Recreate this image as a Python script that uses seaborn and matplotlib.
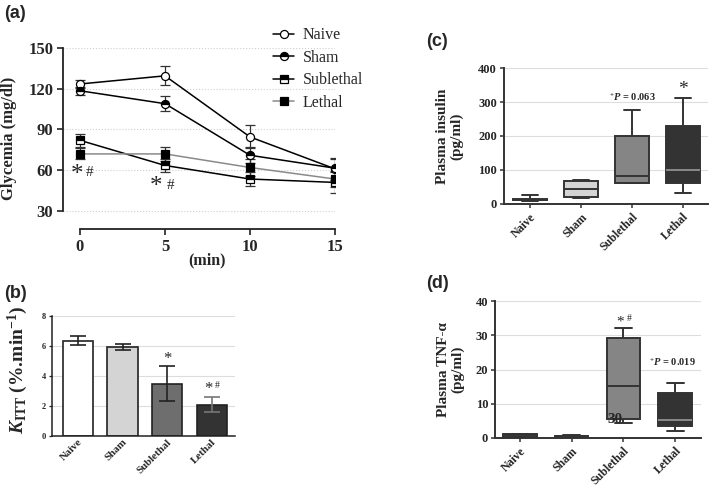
import numpy as np
import pandas as pd
import matplotlib
matplotlib.use("Agg")
import matplotlib.pyplot as plt
import seaborn as sns

sns.set_style("white")
plt.rcParams['font.family'] = ['Liberation Serif', 'DejaVu Serif']
plt.rcParams['mathtext.fontset'] = 'custom'
plt.rcParams['mathtext.rm'] = 'Liberation Serif:bold'
plt.rcParams['mathtext.it'] = 'Liberation Serif:italic:bold'
plt.rcParams['mathtext.bf'] = 'Liberation Serif:bold'

# ---------------- data ----------------
groups = ["Naive", "Sham", "Sublethal", "Lethal"]

# (a) glycemia during ITT
time_min = [0, 5, 10, 15]
glyc_naive = [123.5, 129.5, 84.5, 61.0]
glyc_sham = [118.5, 109.0, 71.0, 61.5]
glyc_sublethal = [82.0, 63.5, 53.5, 51.0]
glyc_lethal = [72.0, 72.0, 62.0, 53.5]
err_naive = [3, 7, 8.5, 8]
err_sham = [3, 5.5, 6, 7]
err_sublethal = [5, 5, 5, 7.5]
err_lethal = [4, 5, 6, 6]

# (b) KITT
kitt_mean = [6.35, 5.95, 3.5, 2.1]
kitt_err = [0.3, 0.2, 1.15, 0.5]

# (c) plasma insulin five-number summaries (min, q1, median, q3, max)
ins_naive = [10, 11, 13, 14, 27]
ins_sham = [18.5, 20.5, 43, 68.5, 71.5]
ins_sublethal = [62, 63, 81, 200, 276]
ins_lethal = [32, 61, 101, 229, 311]

# (d) plasma TNF-alpha five-number summaries
tnf_naive = [0.2, 0.3, 0.8, 1.2, 1.3]
tnf_sham = [0.1, 0.2, 0.5, 0.7, 0.8]
tnf_sublethal = [4.4, 5.6, 15.1, 29.3, 32.1]
tnf_lethal = [1.95, 3.5, 5.35, 13.1, 16.0]

# --------------- figure ---------------
W, H = 709, 487
fig = plt.figure(figsize=(W / 100, H / 100), dpi=100)


def ax_px(l, r, t, b):
    return fig.add_axes([l / W, 1 - b / H, (r - l) / W, (b - t) / H])


spine_col = '#222222'

# ================= (a) =================
axA = ax_px(63, 335, 48, 229)
axA.set_xlim(-1, 15)
axA.set_ylim(16.7, 150)
for y in [30, 60, 90, 120, 150]:
    axA.axhline(y, color='#cfcfcf', lw=0.8, ls=':', zorder=0)

series = [
    ("Naive", glyc_naive, err_naive, dict(color='black', marker='o', mfc='white', mec='black', fillstyle='full')),
    ("Sham", glyc_sham, err_sham, dict(color='black', marker='o', mfc='black', mec='black', fillstyle='top', markerfacecoloralt='white')),
    ("Sublethal", glyc_sublethal, err_sublethal, dict(color='black', marker='s', mfc='black', mec='black', fillstyle='top', markerfacecoloralt='white')),
    ("Lethal", glyc_lethal, err_lethal, dict(color='#8a8a8a', marker='s', mfc='black', mec='black', fillstyle='full')),
]
for name, vals, err, st in series:
    axA.errorbar(time_min, vals, yerr=err, fmt='none', ecolor='#333333', elinewidth=0.9, capsize=3.5, capthick=0.9, zorder=2)
    sns.lineplot(x=time_min, y=vals, ax=axA, label=name, lw=1.1, markersize=5.8, mew=0.9, zorder=3, **st)

axA.spines['top'].set_visible(False)
axA.spines['right'].set_visible(False)
axA.spines['left'].set_bounds(30, 150)
axA.spines['bottom'].set_bounds(0, 15)
for s in ['left', 'bottom']:
    axA.spines[s].set_color(spine_col)
    axA.spines[s].set_linewidth(1.3)
axA.set_yticks([30, 60, 90, 120, 150])
axA.set_xticks([0, 5, 10, 15])
axA.tick_params(axis='both', direction='out', length=4, width=1.2, color=spine_col, pad=3, left=True, bottom=True)
for lab in axA.get_xticklabels() + axA.get_yticklabels():
    lab.set_fontsize(12)
    lab.set_fontweight('bold')
axA.set_ylabel("Glycemia (mg/dl)", fontsize=12, fontweight='bold')
axA.yaxis.set_label_coords(-0.17, 0.5)
axA.set_xlabel("(min)", fontsize=11.5, fontweight='bold')
axA.xaxis.set_label_coords(0.53, -0.13)
axA.legend(loc='upper left', bbox_to_anchor=(267 / W, 1 - 21 / H), bbox_transform=fig.transFigure,
           frameon=False, fontsize=11.5, handlelength=1.3, handletextpad=0.55, labelspacing=0.4, borderaxespad=0)
axA.text(-0.2, 56.5, "*", fontsize=18, ha='center', va='center')
axA.text(0.55, 58, "#", fontsize=11, ha='center', va='center')
axA.text(4.5, 47.5, "*", fontsize=18, ha='center', va='center')
axA.text(5.35, 49, "#", fontsize=11, ha='center', va='center')

# ================= (b) =================
axB = ax_px(52, 235, 316, 436)
for y in [2, 4, 6, 8]:
    axB.axhline(y, color='#dddddd', lw=0.8, zorder=0)
bar_cols = ['white', '#d4d4d4', '#6e6e6e', '#333333']
sns.barplot(x=groups, y=kitt_mean, hue=groups, palette=bar_cols, legend=False, ax=axB,
            width=0.68, edgecolor='#222222', linewidth=1.2, zorder=2)
err_cols = ['#222222', '#222222', '#222222', '#777777']
for i, (m, e) in enumerate(zip(kitt_mean, kitt_err)):
    axB.errorbar(i, m, yerr=e, fmt='none', ecolor=err_cols[i], elinewidth=1.2, capsize=5.5, capthick=1.2, zorder=3)
axB.set_xlim(-0.58, 3.52)
axB.set_ylim(0, 8)
axB.set_yticks([0, 2, 4, 6, 8])
axB.spines['top'].set_visible(False)
axB.spines['right'].set_visible(False)
for s in ['left', 'bottom']:
    axB.spines[s].set_color(spine_col)
    axB.spines[s].set_linewidth(1.1)
axB.tick_params(axis='y', direction='out', length=2.5, width=0.9, color=spine_col, pad=2, left=True)
axB.tick_params(axis='x', length=0, pad=1)
for lab in axB.get_yticklabels():
    lab.set_fontsize(6)
    lab.set_fontweight('bold')
for lab in axB.get_xticklabels():
    lab.set_fontsize(7.8)
    lab.set_fontweight('bold')
    lab.set_rotation(45)
    lab.set_ha('right')
    lab.set_rotation_mode('anchor')
axB.set_ylabel(r"$K_{\mathrm{ITT}}$ (%.min$^{\mathrm{-1}}$)", fontsize=14, fontweight='bold')
axB.yaxis.set_label_coords(-0.12, 0.55)
axB.set_xlabel("")
axB.text(2, 5.15, "*", fontsize=12, ha='center', va='center')
axB.text(2.93, 3.15, "*", fontsize=12, ha='center', va='center')
axB.text(3.12, 3.35, "#", fontsize=7, ha='center', va='center')


# ============ box plot helpers ============
def long_table(summaries):
    rows = []
    for g, vals in zip(groups, summaries):
        for v in vals:
            rows.append((g, v))
    return pd.DataFrame(rows, columns=['group', 'value'])


box_cols = ['#d4d4d4', '#d4d4d4', '#858585', '#333333']


def style_box_axes(ax, yticks):
    ax.set_yticks(yticks)
    ax.spines['top'].set_visible(False)
    ax.spines['right'].set_visible(False)
    for s in ['left', 'bottom']:
        ax.spines[s].set_color('#333333')
        ax.spines[s].set_linewidth(1.4)
    ax.tick_params(axis='both', direction='out', length=3, width=1.1, color='#333333', pad=2, left=True, bottom=True)
    for lab in ax.get_yticklabels():
        lab.set_fontsize(9)
        lab.set_fontweight('bold')
    for lab in ax.get_xticklabels():
        lab.set_fontsize(8.5)
        lab.set_fontweight('bold')
        lab.set_rotation(45)
        lab.set_ha('right')
        lab.set_rotation_mode('anchor')
    ax.set_xlabel("")


def lighten_lethal_median(ax, median):
    for ln in ax.lines:
        xd, yd = np.asarray(ln.get_xdata(), float), np.asarray(ln.get_ydata(), float)
        if len(yd) == 2 and np.allclose(yd, median) and abs(xd.mean() - 3) < 0.2:
            ln.set_color('#8a8a8a')


# ================= (c) =================
axC = ax_px(504, 708, 68, 204)
for y in [100, 200, 300, 400]:
    axC.axhline(y, color='#dddddd', lw=0.8, zorder=0)
dfC = long_table([ins_naive, ins_sham, ins_sublethal, ins_lethal])
sns.boxplot(data=dfC, x='group', y='value', hue='group', palette=box_cols, legend=False,
            whis=(0, 100), width=0.65, ax=axC, linewidth=1.4, linecolor='#333333', zorder=2)
lighten_lethal_median(axC, ins_lethal[2])
axC.set_xlim(-0.51, 3.49)
axC.set_ylim(0, 400)
style_box_axes(axC, [0, 100, 200, 300, 400])
axC.set_ylabel("Plasma insulin\n(pg/ml)", fontsize=11, fontweight='bold', linespacing=1.1)
axC.yaxis.set_label_coords(-0.2, 0.5)
axC.text(2, 315, r"$^{+}P$ = 0.063", fontsize=7.5, fontweight='bold', ha='center', va='center')
axC.text(3, 337, "*", fontsize=14, ha='center', va='center')

# ================= (d) =================
axD = ax_px(495, 701, 301, 438)
for y in [10, 20, 30, 40]:
    axD.axhline(y, color='#dddddd', lw=0.8, zorder=0)
dfD = long_table([tnf_naive, tnf_sham, tnf_sublethal, tnf_lethal])
sns.boxplot(data=dfD, x='group', y='value', hue='group', palette=box_cols, legend=False,
            whis=(0, 100), width=0.65, ax=axD, linewidth=1.4, linecolor='#333333', zorder=2)
lighten_lethal_median(axD, tnf_lethal[2])
axD.set_xlim(-0.48, 3.5)
axD.set_ylim(0, 40)
style_box_axes(axD, [0, 10, 20, 30, 40])
axD.set_ylabel("Plasma TNF-α\n(pg/ml)", fontsize=11, fontweight='bold', linespacing=1.1)
axD.yaxis.set_label_coords(-0.15, 0.5)
axD.text(1.93, 33.8, "*", fontsize=11, ha='center', va='center')
axD.text(2.12, 34.8, "#", fontsize=7, ha='center', va='center')
axD.text(2.95, 22, r"$^{+}P$ = 0.019", fontsize=7.5, fontweight='bold', ha='center', va='center')
axD.text(1.84, 5.3, "30", fontsize=11, fontweight='bold', ha='center', va='center')

# panel letters
for lbl, x, y in [("(a)", 4, 13), ("(b)", 4, 293), ("(c)", 426, 42), ("(d)", 426, 284)]:
    fig.text(x / W, 1 - y / H, lbl, fontsize=13, fontweight='bold', family='Liberation Sans', ha='left', va='center')

fig.savefig("out.png", dpi=100)
